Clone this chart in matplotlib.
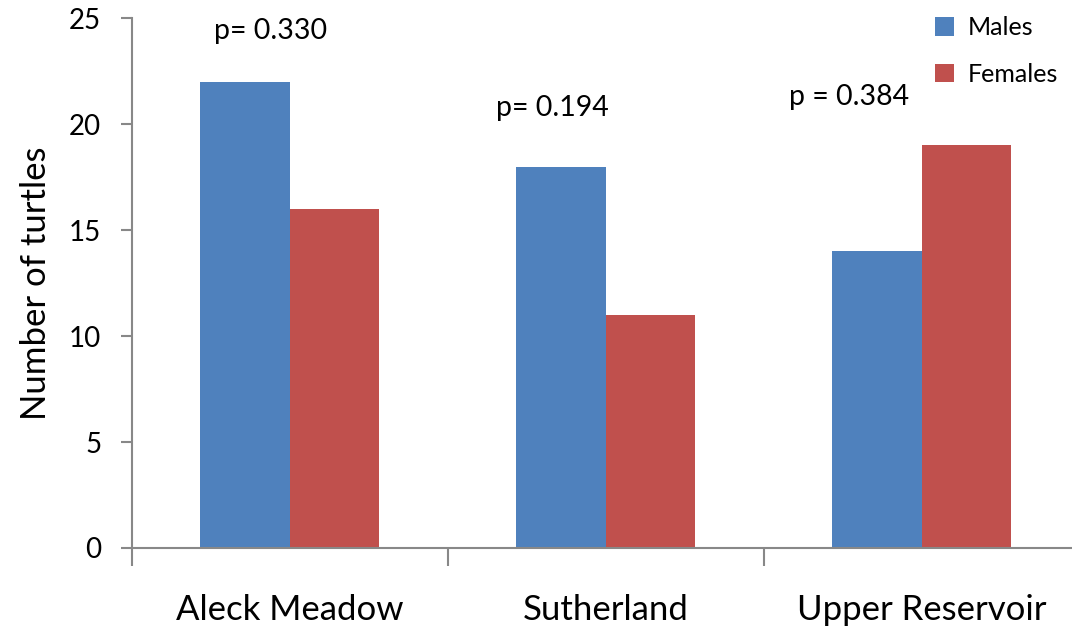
import numpy as np
import matplotlib
matplotlib.use("Agg")
import matplotlib.pyplot as plt
from matplotlib.ticker import FixedLocator

sites = ["Aleck Meadow", "Sutherland", "Upper Reservoir"]
males = [22, 18, 14]
females = [16, 11, 19]
p_labels = ["p= 0.330", "p= 0.194", "p = 0.384"]
p_pos = [(-0.06, 24.4), (0.83, 20.75), (1.77, 21.3)]

plt.rcParams["font.family"] = ["Lato", "DejaVu Sans"]

fig = plt.figure(figsize=(10.72, 6.27), dpi=100)
ax = fig.add_axes([0.123, 0.126, 0.884, 0.845])

x = np.arange(len(sites))
w = 0.283
ax.bar(x - w / 2, males, w, color="#4F81BD", label="Males", zorder=2)
ax.bar(x + w / 2, females, w, color="#C0504D", label="Females", zorder=2)

for txt, (px, py) in zip(p_labels, p_pos):
    ax.text(px, py, txt, ha="center", va="center", fontsize=20.5)

ax.set_xlim(-0.5, 2.5)
ax.set_ylim(0, 25)
ax.set_yticks([0, 5, 10, 15, 20, 25])
ax.set_xticks(x)
ax.set_xticklabels(sites, fontsize=25)
ax.xaxis.set_minor_locator(FixedLocator([-0.5, 0.5, 1.5, 2.5]))
ax.tick_params(axis="x", which="major", length=0, pad=33)
ax.tick_params(axis="x", which="minor", length=13, width=1.5, color="#888888")
ax.tick_params(axis="y", length=8, width=1.5, color="#888888", labelsize=20, pad=14)
ax.set_ylabel("Number of turtles", fontsize=25, labelpad=12)

for s in ["top", "right"]:
    ax.spines[s].set_visible(False)
for s in ["left", "bottom"]:
    ax.spines[s].set_color("#888888")
    ax.spines[s].set_linewidth(1.5)
ax.spines["left"].set_bounds(0, 25)

ax.legend(loc="upper left", bbox_to_anchor=(0.857, 1.0), bbox_transform=fig.transFigure,
          frameon=False, fontsize=18, handlelength=0.75, handleheight=0.75,
          labelspacing=0.95, handletextpad=0.55, borderpad=0.15)

fig.savefig("out.png", dpi=100, facecolor="white")
